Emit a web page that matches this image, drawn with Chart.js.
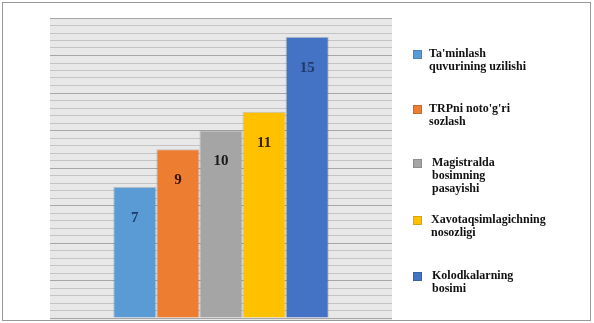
<!DOCTYPE html>
<html>
<head>
<meta charset="utf-8">
<script src="https://cdn.jsdelivr.net/npm/chart.js@4.4.0/dist/chart.umd.min.js"></script>
<style>
  html, body { margin: 0; padding: 0; background: #fff; }
  #wrap { position: relative; width: 594px; height: 323px; overflow: hidden; }
  #frame { position: absolute; left: 2px; top: 2px; width: 587px; height: 317px; border: 1px solid #999; box-sizing: content-box; pointer-events: none; }
  #chart { position: absolute; left: 0; top: 0; }
  .item { position: absolute; font-family: "Liberation Serif", "Times New Roman", serif; font-weight: bold; font-size: 12px; line-height: 13px; color: #111; white-space: nowrap; }
  .box { position: absolute; width: 7px; height: 7px; border: 1px solid rgba(0,0,0,0.15); }
</style>
</head>
<body>
<div id="wrap">
  <canvas id="chart" width="594" height="323"></canvas>
  <div id="frame"></div>
  <div id="legend"></div>
</div>
<script>
// Data
const categories = [
    "Ta'minlash\nquvurining uzilishi",
    "TRPni noto'g'ri\nsozlash",
    "Magistralda\nbosimning\npasayishi",
    "Xavotaqsimlagichning\nnosozligi",
    "Kolodkalarning\nbosimi"
];
const values = [7, 9, 10, 11, 15];
const barColors = ['#5b9bd5', '#ed7d31', '#a5a5a5', '#ffc000', '#4472c4'];
const labelColors = ['#1f3a6b', '#3a1505', '#1a1a1a', '#3a2000', '#1f3a6b'];

// Legend (html, placed to the right of the plot)
const legendEl = document.getElementById('legend');
const legendTop = [48, 103, 157, 214, 270];
const legendTextX = [429, 429, 432, 431, 432];
categories.forEach((name, i) => {
    const box = document.createElement('div');
    box.className = 'box';
    box.style.left = '413px';
    box.style.top = (legendTop[i] + 2) + 'px';
    box.style.background = barColors[i];
    legendEl.appendChild(box);

    const txt = document.createElement('div');
    txt.className = 'item';
    txt.style.left = legendTextX[i] + 'px';
    txt.style.top = (legendTop[i] - 1) + 'px';
    txt.innerHTML = name.split('\n').join('<br>');
    legendEl.appendChild(txt);
});

// Plot background
const plotBg = {
    id: 'plotBg',
    beforeDraw(chart) {
        const { ctx, chartArea: a } = chart;
        ctx.save();
        ctx.fillStyle = '#e8e8e8';
        ctx.fillRect(a.left, a.top, a.right - a.left, a.bottom - a.top + 2);
        ctx.restore();
    }
};

// Value labels inside bars
const valueLabels = {
    id: 'valueLabels',
    afterDatasetsDraw(chart) {
        const ctx = chart.ctx;
        ctx.save();
        ctx.font = 'bold 15px "Liberation Serif", "Times New Roman", serif';
        ctx.textAlign = 'center';
        ctx.textBaseline = 'middle';
        chart.data.datasets.forEach((ds, i) => {
            const bar = chart.getDatasetMeta(i).data[0];
            ctx.fillStyle = labelColors[i];
            ctx.fillText(ds.data[0], bar.x, bar.y + 31);
        });
        ctx.restore();
    }
};

const ctx = document.getElementById('chart').getContext('2d');
let chart = new Chart(ctx, {
    type: 'bar',
    data: {
        labels: [''],
        datasets: categories.map((name, i) => ({
            label: name.replace(/\n/g, ' '),
            data: [values[i]],
            backgroundColor: barColors[i],
            borderColor: 'rgba(0,0,0,0.18)',
            borderWidth: 1,
            barPercentage: 1,
            categoryPercentage: 0.63
        }))
    },
    options: {
        responsive: false,
        animation: false,
        layout: { padding: { left: 50, top: 18, right: 202, bottom: 5 } },
        plugins: {
            legend: { display: false },
            tooltip: { enabled: false }
        },
        scales: {
            x: { display: false },
            y: {
                min: 0,
                max: 16,
                ticks: { display: false, stepSize: 0.4 },
                border: { display: false },
                grid: {
                    drawTicks: false,
                    lineWidth: 1,
                    color: (c) => {
                        const v = c.tick ? c.tick.value : 0;
                        return Math.abs(v / 2 - Math.round(v / 2)) < 1e-6 ? '#a6a6a6' : '#c4c4c4';
                    }
                }
            }
        }
    },
    plugins: [plotBg, valueLabels]
});
</script>
</body>
</html>
